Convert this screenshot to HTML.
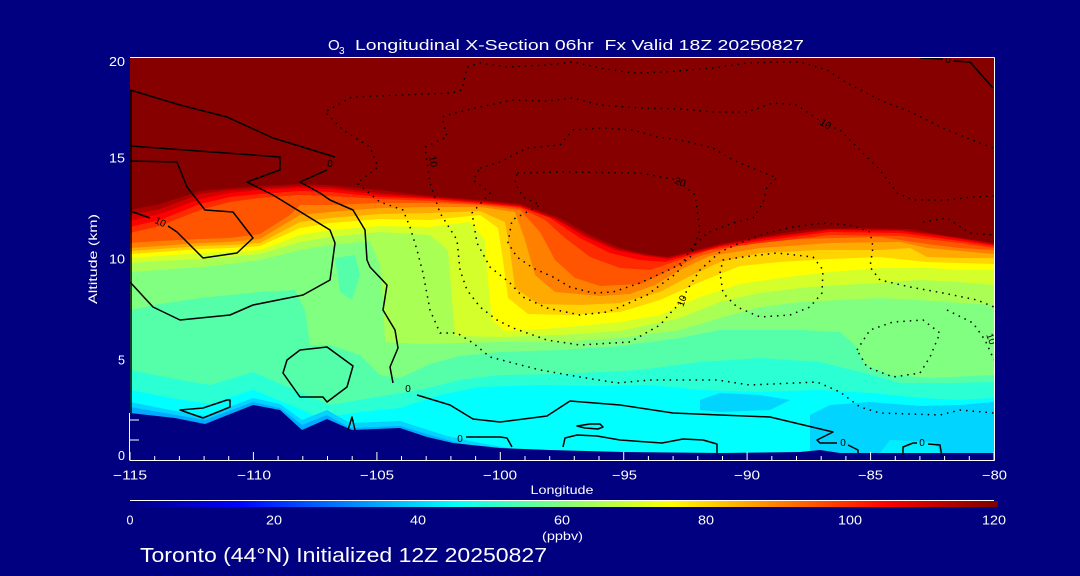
<!DOCTYPE html>
<html><head><meta charset="utf-8"><style>
html,body{margin:0;padding:0;background:#000080;width:1080px;height:576px;overflow:hidden}
svg{display:block}
text{font-family:"Liberation Sans",sans-serif;fill:#fff}
</style></head><body>
<svg width="1080" height="576" viewBox="0 0 1080 576" xmlns="http://www.w3.org/2000/svg">
<defs>
<clipPath id="pc"><rect x="130" y="57.5" width="864" height="402.5"/></clipPath>
<linearGradient id="jet" x1="130" y1="0" x2="994" y2="0" gradientUnits="userSpaceOnUse">
<stop offset="0" stop-color="#000080"/><stop offset="0.125" stop-color="#0000ff"/><stop offset="0.375" stop-color="#00ffff"/><stop offset="0.5" stop-color="#80ff80"/><stop offset="0.625" stop-color="#ffff00"/><stop offset="0.875" stop-color="#ff0000"/><stop offset="1" stop-color="#800000"/>
</linearGradient>
</defs>
<rect width="1080" height="576" fill="#000080"/>
<g clip-path="url(#pc)">
<rect x="130" y="57" width="864" height="404" fill="#55ffaa"/>
<path fill="#80ff80" d="M130,58 L130,310 L160,304 L200,298 L260,292 L295,290 L305,310 L310,345 L330,345 L360,355 L380,375 L400,378 L430,364 L460,356 L500,352 L560,350 L620,346 L680,338 L720,330 L760,330 L800,330 L840,332 L855,345 L865,365 L890,375 L930,378 L994,375 L994,58 Z"/>
<path fill="#55ffaa" d="M335,258 L355,255 L360,275 L352,300 L340,292 Z"/>
<path fill="#aaff55" d="M130,58 L130,272 L160,270 L200,267 L230,264 L260,260 L300,250 L330,245 L370,241 L380,265 L383,300 L385,342 L420,344 L460,343 L500,342 L560,342 L620,338 L680,330 L720,318 L760,307 L800,302 L840,300 L880,298 L920,300 L960,303 L994,305 L994,58 Z"/>
<path fill="#d4ff2b" d="M130,58 L130,263 L160,261 L200,259 L230,257 L260,254 L300,242 L330,237 L380,232 L430,235 L448,250 L452,300 L455,336 L500,337 L560,335 L620,331 L680,318 L720,302 L760,293 L800,288 L840,285 L880,283 L920,280 L960,282 L994,285 L994,58 Z"/>
<path fill="#ffff00" d="M130,58 L130,258 L160,256 L200,253 L230,252 L260,250 L300,235 L330,230 L380,226 L430,227 L470,222 L485,240 L488,280 L492,320 L505,331 L545,329 L580,326 L620,322 L660,315 L700,297 L740,284 L780,278 L830,272 L880,268 L930,268 L960,270 L994,270 L994,58 Z"/>
<path fill="#ffd400" d="M130,58 L130,254 L160,252 L200,249 L230,248 L260,246 L300,228 L330,223 L380,219 L430,220 L480,215 L498,228 L503,260 L508,298 L528,314 L570,315 L620,312 L660,300 L700,282 L740,266 L780,262 L830,259 L880,257 L927,262 L960,263 L994,264 L994,58 Z"/>
<path fill="#ffaa00" d="M130,58 L130,251 L160,249 L200,246 L230,245 L260,243 L300,222 L330,218 L380,214 L430,213 L480,211 L505,222 L510,250 L515,288 L538,304 L580,305 L620,303 L660,292 L690,276 L720,262 L760,253 L820,250 L880,250 L910,248 L927,257 L960,258 L994,258 L994,58 Z"/>
<path fill="#ff8000" d="M130,58 L130,248 L160,246 L200,243 L230,242 L260,239 L300,215 L330,212 L380,208 L430,207 L480,207 L515,212 L525,240 L535,275 L555,292 L600,296 L630,294 L655,285 L680,270 L710,256 L760,248 L830,243 L900,242 L927,248 L960,251 L994,254 L994,58 Z"/>
<path fill="#ff5500" d="M130,58 L130,243 L160,241 L200,239 L230,238 L260,234 L290,215 L300,205 L330,205 L380,203 L430,203 L480,205 L520,210 L540,232 L555,260 L575,278 L600,286 L640,284 L670,270 L700,256 L740,245 L800,239 L880,237 L927,244 L960,248 L994,250 L994,58 Z"/>
<path fill="#ff2b00" d="M130,58 L130,233 L160,226 L200,210 L230,202 L260,198 L300,195 L330,196 L380,199 L430,201 L480,204 L520,208 L545,220 L565,238 L590,257 L620,268 L650,270 L680,260 L710,250 L760,243 L830,235 L900,236 L960,243 L994,248 L994,58 Z"/>
<path fill="#ff0000" d="M130,58 L130,227 L160,220 L200,204 L230,197 L260,194 L300,191 L330,192 L380,197 L430,199 L480,203 L520,207 L550,218 L580,238 L610,253 L640,260 L665,262 L690,255 L720,247 L760,241 L830,232 L900,233 L960,241 L994,246 L994,58 Z"/>
<path fill="#d40000" d="M130,58 L130,221 L160,214 L200,199 L230,193 L260,190 L300,188 L330,189 L380,195 L430,198 L480,202 L520,206 L555,219 L585,237 L615,250 L645,256 L668,259 L693,253 L720,246 L760,239 L830,230 L900,231 L960,239 L994,245 L994,58 Z"/>
<path fill="#aa0000" d="M130,58 L130,215 L160,209 L200,194 L230,190 L260,188 L300,186 L330,187 L380,193 L430,197 L480,201 L520,205 L557,219 L587,236 L617,249 L645,255 L668,258 L693,252 L720,245 L760,238 L830,229 L900,230 L960,238 L994,244 L994,58 Z"/>
<path fill="#870000" d="M130,57 L130,210 L160,204 L200,191 L230,188 L260,186 L300,184 L330,185 L380,190 L430,196 L480,200 L520,204 L560,218 L590,235 L620,248 L645,254 L668,257 L693,251 L720,244 L760,237 L810,229 L860,228 L910,229 L947,236 L994,243 L994,57 Z"/>
<path fill="#2bffd4" d="M130,460 L130,370 L170,378 L210,385 L253,372 L290,388 L330,405 L370,398 L420,390 L460,380 L500,375 L560,374 L640,370 L700,362 L760,358 L820,362 L860,372 L900,383 L950,383 L994,382 L994,460 Z"/>
<path fill="#00ffff" d="M130,460 L130,390 L170,398 L210,404 L253,390 L290,405 L320,418 L360,412 L400,408 L440,395 L480,387 L540,385 L600,386 L650,385 L700,390 L760,392 L820,390 L870,393 L920,398 L960,400 L994,398 L994,460 Z"/>
<path fill="#00d4ff" d="M130,460 L130,402 L170,410 L205,416 L253,398 L280,404 L302,420 L327,410 L350,423 L400,421 L447,436 L480,443 L520,450 L520,460 Z"/>
<path fill="#00d4ff" d="M700,400 L720,393 L760,395 L790,400 L770,410 L720,412 L700,410 Z"/>
<path fill="#00d4ff" d="M810,415 L830,405 L870,402 L920,406 L960,405 L994,402 L994,460 L810,460 Z"/>
<path fill="#00eeff" d="M880,453 L890,440 L935,442 L940,453 Z"/>
<path fill="#00aaff" d="M130,460 L130,407 L170,414 L205,420 L253,402 L280,408 L302,425 L327,415 L350,428 L400,426 L447,440 L470,446 L470,460 Z"/>
<path fill="#000080" d="M130,413 L175,418 L205,424 L253,405 L280,410 L302,430 L327,419 L352,430 L400,428 L427,437 L453,443 L500,448 L550,450 L623,452 L720,453 L800,452 L820,450 L840,453 L994,453 L994,461 L130,461 Z"/>
<g fill="none" stroke="#000" stroke-width="1.5" stroke-linejoin="round">
<polyline points="130,161 177,162 187,187 205,210 233,212 253,238 237,253 203,258 187,242 177,232 168,226"/>
<polyline points="150,218 130,211"/>
<polyline points="130,146 280,157 280,170 247,182 273,195 330,230 335,243 330,280 303,295 253,305 230,315 180,320 153,307 130,282"/>
<polyline points="130,90 180,105 227,117 273,138 335,157"/>
<polyline points="327,170 300,182 320,193 330,200 353,210 365,230 367,260 370,267 387,285 383,310 395,330 398,348 390,367 393,383"/>
<polyline points="417,395 450,405 473,419 500,422 547,416 570,401 620,405 673,413 720,415 770,417 833,432 817,440 820,443 837,443"/>
<polyline points="848,445 858,450 858,453"/>
<polygon points="287,360 300,350 327,347 353,366 347,387 327,402 323,397 300,397 283,373"/>
<polygon points="180,410 203,418 230,407 230,400 227,400 203,408"/>
<polyline points="348,430 352,417 355,430"/>
<polyline points="466,437 500,437 507,438 512,447"/>
<polygon points="577,426 590,424 600,424 603,427 598,429 585,428"/>
<polyline points="563,447 565,438 577,435 597,436 620,440 662,443 683,439 703,440 717,444 717,453"/>
<polyline points="903,455 903,447 913,443 917,443"/>
<polyline points="928,444 940,445 942,457"/>
<polyline points="920,58 943,59"/>
<polyline points="953,61 970,62 993,88"/>
<line x1="131" y1="90" x2="131" y2="413"/>
</g>
<g fill="none" stroke="#000" stroke-width="1.5" stroke-dasharray="1.5 5">
<polyline points="993,148 947,130 913,113 880,100 847,83 827,70 800,62 780,62 747,63 713,68 667,72 633,73 600,68 573,62 547,65 507,67 480,63 467,67 462,90 452,93 352,97 325,112 343,130 370,147 378,167 357,183 380,202 403,210 410,227 417,250 423,273 430,310 440,333 457,333 473,343 490,357 513,363 540,370 580,377 617,383 650,380 717,380 750,385 817,382 840,392 860,407 880,413 940,415 960,410 994,413"/>
<polyline points="994,196 973,197 947,200 913,200 897,193 880,170 863,153 840,130 823,123 797,105 773,103 747,112 713,112 680,109 640,108 600,105 573,98 547,101 513,100 480,107 455,113 442,117 447,137 425,147 427,162 430,183 440,213 457,240 460,270 467,290 480,307 497,320 513,328 547,340 580,345 630,342 660,325 673,310 682,302 687,290 700,270 720,252 742,242 767,233 793,227 823,223 850,225 870,232 873,247 870,267 880,280 910,287 943,293 977,300 994,307"/>
<polygon points="480,168 500,162 527,148 560,145 573,130 603,128 633,130 657,137 680,140 713,148 733,160 757,170 777,178 767,187 763,203 753,218 733,223 707,233 690,250 677,273 663,283 647,295 620,307 607,312 580,315 547,308 523,297 510,283 490,267 477,243 472,213 490,193 473,180"/>
<polygon points="517,173 560,172 640,173 677,180 695,195 700,230 690,258 673,268 640,283 613,292 593,293 570,287 553,277 533,268 517,257 508,243 512,220 525,213 540,205 523,197 515,183"/>
<polygon points="720,273 723,260 743,257 777,253 813,257 823,270 822,293 810,307 790,315 760,317 737,307 723,293"/>
<polygon points="857,350 870,330 893,322 923,320 940,333 930,357 920,373 893,377 867,367"/>
<polyline points="947,310 973,323 985,340 994,360"/>
<polyline points="923,222 947,218 970,233 994,235"/>
</g>
<g font-size="10">
<text x="330" y="167" text-anchor="middle" style="fill:#000">0</text>
<text x="408" y="392" text-anchor="middle" style="fill:#000">0</text>
<text x="460" y="442" text-anchor="middle" style="fill:#000">0</text>
<text x="843" y="446" text-anchor="middle" style="fill:#000">0</text>
<text x="922" y="446" text-anchor="middle" style="fill:#000">0</text>
<text x="948" y="63" text-anchor="middle" style="fill:#000">0</text>
<text transform="translate(159,225) rotate(25)" text-anchor="middle" style="fill:#000">10</text>
<text transform="translate(430,162) rotate(80)" text-anchor="middle" style="fill:#000">10</text>
<text transform="translate(824,127) rotate(30)" text-anchor="middle" style="fill:#000">10</text>
<text transform="translate(685,302) rotate(-70)" text-anchor="middle" style="fill:#000">10</text>
<text transform="translate(988,340) rotate(70)" text-anchor="middle" style="fill:#000">10</text>
<text transform="translate(679,185) rotate(20)" text-anchor="middle" style="fill:#000">20</text>
</g>
</g>
<g stroke="#fff" stroke-width="1" fill="none">
<line x1="130" y1="57.5" x2="994.5" y2="57.5"/>
<line x1="994.5" y1="57.5" x2="994.5" y2="460.5"/>
<line x1="130" y1="460.5" x2="994.5" y2="460.5"/>
<line x1="129.5" y1="413" x2="129.5" y2="460.5"/>
<line x1="130" y1="440" x2="139" y2="440"/>
<line x1="130" y1="420" x2="139" y2="420"/>
<path d="M130,452V460 M154.7,456V460 M179.4,456V460 M204.1,456V460 M228.7,456V460 M253.4,452V460 M278.1,456V460 M302.8,456V460 M327.5,456V460 M352.2,456V460 M376.9,452V460 M401.5,456V460 M426.2,456V460 M450.9,456V460 M475.6,456V460 M500.3,452V460 M525,456V460 M549.7,456V460 M574.3,456V460 M599,456V460 M623.7,452V460 M648.4,456V460 M673.1,456V460 M697.8,456V460 M722.5,456V460 M747.1,452V460 M771.8,456V460 M796.5,456V460 M821.2,456V460 M845.9,456V460 M870.6,452V460 M895.3,456V460 M919.9,456V460 M944.6,456V460 M969.3,456V460 M994,452V460"/>
</g>
<text x="328" y="50" font-size="15">O</text>
<text x="339" y="54" font-size="10">3</text>
<text x="355" y="50" font-size="15" textLength="449" lengthAdjust="spacingAndGlyphs" xml:space="preserve">Longitudinal X-Section 06hr  Fx Valid 18Z 20250827</text>
<g font-size="12.5" text-anchor="end">
<text x="125" y="66" textLength="16" lengthAdjust="spacingAndGlyphs">20</text>
<text x="125" y="162.5" textLength="16" lengthAdjust="spacingAndGlyphs">15</text>
<text x="125" y="263.5" textLength="16" lengthAdjust="spacingAndGlyphs">10</text>
<text x="125" y="364.5">5</text>
<text x="125" y="460">0</text>
</g>
<text transform="translate(97,259) rotate(-90)" font-size="12" text-anchor="middle" textLength="90" lengthAdjust="spacingAndGlyphs">Altitude (km)</text>
<g font-size="12.5" text-anchor="middle">
<text x="130" y="479.5" textLength="34" lengthAdjust="spacingAndGlyphs">−115</text>
<text x="254" y="479.5" textLength="34" lengthAdjust="spacingAndGlyphs">−110</text>
<text x="377" y="479.5" textLength="34" lengthAdjust="spacingAndGlyphs">−105</text>
<text x="500" y="479.5" textLength="34" lengthAdjust="spacingAndGlyphs">−100</text>
<text x="624.5" y="479.5" textLength="25" lengthAdjust="spacingAndGlyphs">−95</text>
<text x="747" y="479.5" textLength="26" lengthAdjust="spacingAndGlyphs">−90</text>
<text x="870.5" y="479.5" textLength="25" lengthAdjust="spacingAndGlyphs">−85</text>
<text x="994.5" y="479.5" textLength="25" lengthAdjust="spacingAndGlyphs">−80</text>
</g>
<text x="562" y="494" font-size="12" text-anchor="middle" textLength="63" lengthAdjust="spacingAndGlyphs">Longitude</text>
<line x1="130" y1="500.5" x2="994" y2="500.5" stroke="#fff" stroke-width="1"/>
<rect x="130" y="501" width="868" height="6" fill="url(#jet)"/>
<g font-size="12.5" text-anchor="middle">
<text x="130" y="524.5">0</text>
<text x="274" y="524.5" textLength="16" lengthAdjust="spacingAndGlyphs">20</text>
<text x="418" y="524.5" textLength="16" lengthAdjust="spacingAndGlyphs">40</text>
<text x="562" y="524.5" textLength="16" lengthAdjust="spacingAndGlyphs">60</text>
<text x="706" y="524.5" textLength="16" lengthAdjust="spacingAndGlyphs">80</text>
<text x="850" y="524.5" textLength="24" lengthAdjust="spacingAndGlyphs">100</text>
<text x="994" y="524.5" textLength="24" lengthAdjust="spacingAndGlyphs">120</text>
</g>
<text x="562.5" y="540" font-size="12" text-anchor="middle" textLength="41" lengthAdjust="spacingAndGlyphs">(ppbv)</text>
<text x="140" y="562" font-size="20" textLength="407" lengthAdjust="spacingAndGlyphs">Toronto (44°N) Initialized 12Z 20250827</text>
</svg>
</body></html>
